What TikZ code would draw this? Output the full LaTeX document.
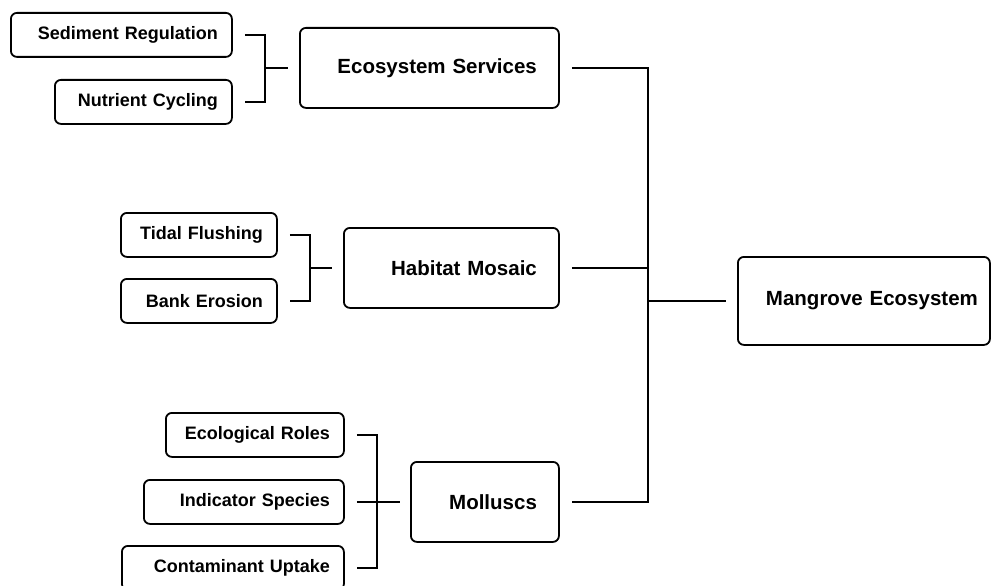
\documentclass[tikz,border=0pt]{standalone}
\usepackage{fontspec}
\setmainfont{Liberation Sans}
\begin{document}
\begin{tikzpicture}[x=1pt,y=-1pt,
  box/.style={draw=black, line width=1.8pt, rounded corners=6pt, align=right,
    inner ysep=0pt, anchor=north west, fill=white},
  leaf/.style={box, inner xsep=14pt, font=\bfseries\fontsize{18}{21}\selectfont},
  mid/.style={box, inner xsep=22pt, font=\bfseries\fontsize{20.5}{24}\selectfont},
  root/.style={box, inner xsep=12pt, font=\bfseries\fontsize{20.5}{24}\selectfont},
  link/.style={draw=black, line width=1.8pt}]
\useasboundingbox (0,0) rectangle (991,586);

% leaves
\node[leaf, text width=193pt, minimum height=44pt] (sed) at (10,12) {Sediment Regulation};
\node[leaf, text width=149pt, minimum height=44pt] (nut) at (54,79) {Nutrient Cycling};
\node[leaf, text width=128pt, minimum height=44pt] (tid) at (120,212) {Tidal Flushing};
\node[leaf, text width=128pt, minimum height=44pt] (bank) at (120,278) {Bank Erosion};
\node[leaf, text width=150pt, minimum height=44pt] (eco) at (165,412) {Ecological Roles};
\node[leaf, text width=172pt, minimum height=44pt] (ind) at (143,479) {Indicator Species};
\node[leaf, text width=194pt, minimum height=44pt] (cont) at (121,545) {Contaminant Uptake};

% branches
\node[mid, text width=215pt, minimum height=80pt] (ess) at (299,27) {Ecosystem Services};
\node[mid, text width=171pt, minimum height=80pt] (hab) at (343,227) {Habitat Mosaic};
\node[mid, text width=104pt, minimum height=80pt] (mol) at (410,461) {Molluscs};

% root
\node[root, text width=228pt, minimum height=88pt] (man) at (737,256) {Mangrove Ecosystem};

% junction points, level with the box each bracket feeds
\coordinate (j1) at (ess.west -| 265,0);
\coordinate (j2) at (hab.west -| 310,0);
\coordinate (j3) at (ind.east -| 377,0);
\coordinate (jr) at (man.west -| 648,0);

% leaf brackets
\draw[link] ([xshift=12pt]sed.east) -| (j1) |- ([xshift=12pt]nut.east);
\draw[link] (j1) -- ([xshift=-11pt]ess.west);
\draw[link] ([xshift=12pt]tid.east) -| (j2) |- ([xshift=12pt]bank.east);
\draw[link] (j2) -- ([xshift=-11pt]hab.west);
\draw[link] ([xshift=12pt]eco.east) -| (j3) |- ([xshift=12pt]cont.east);
\draw[link] ([xshift=12pt]ind.east) -- ([xshift=-10pt]mol.west |- ind.east);

% branch bracket to root
\draw[link] ([xshift=12pt]ess.east) -| (jr) |- ([xshift=12pt]mol.east);
\draw[link] ([xshift=12pt]hab.east) -- (hab.east -| jr);
\draw[link] (jr) -- ([xshift=-11pt]man.west);
\end{tikzpicture}
\end{document}
